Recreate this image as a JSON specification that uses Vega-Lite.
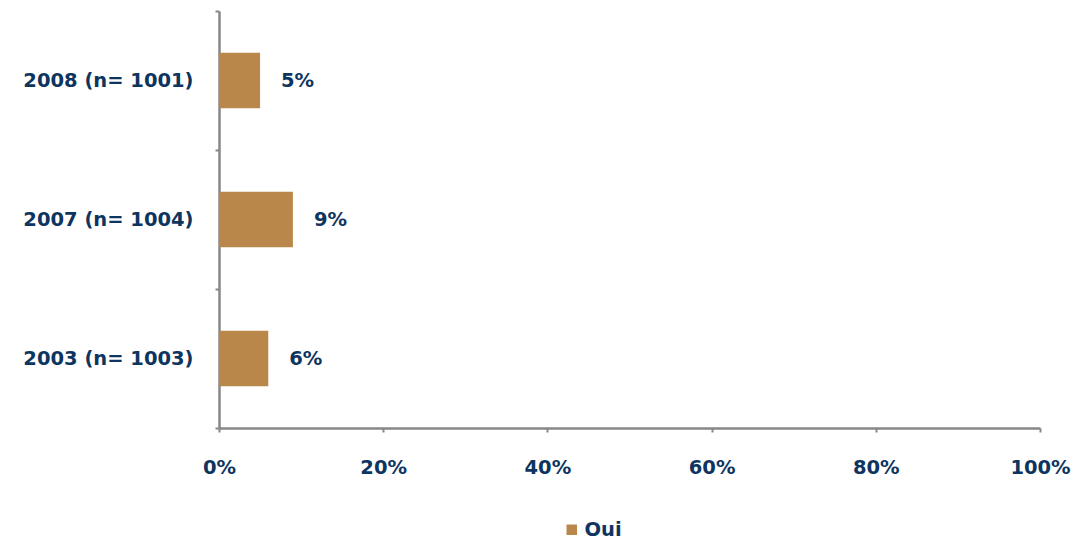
{
  "$schema": "https://vega.github.io/schema/vega-lite/v6.json",
  "autosize": "none",
  "width": 821,
  "height": 417,
  "padding": {"left": 219, "top": 11, "right": 40, "bottom": 114},
  "background": "white",
  "config": {
    "view": {"stroke": null},
    "font": "DejaVu Sans"
  },
  "data": {
    "values": [
      {"annee": "2008 (n= 1001)", "serie": "Oui", "valeur": 0.05},
      {"annee": "2007 (n= 1004)", "serie": "Oui", "valeur": 0.09},
      {"annee": "2003 (n= 1003)", "serie": "Oui", "valeur": 0.06}
    ]
  },
  "encoding": {
    "y": {
      "field": "annee",
      "type": "nominal",
      "sort": null,
      "scale": {"paddingInner": 0, "paddingOuter": 0},
      "axis": {
        "title": null,
        "domainColor": "#878787",
        "domainWidth": 2.5,
        "tickColor": "#878787",
        "tickWidth": 2,
        "tickSize": 4,
        "tickBand": "extent",
        "labelPadding": 22,
        "labelFont": "DejaVu Sans",
        "labelFontWeight": "bold",
        "labelFontSize": 19.5,
        "labelColor": "#0E3560",
        "grid": false
      }
    },
    "x": {
      "field": "valeur",
      "type": "quantitative",
      "scale": {"domain": [0, 1], "nice": false},
      "axis": {
        "title": null,
        "format": ".0%",
        "values": [0, 0.2, 0.4, 0.6, 0.8, 1],
        "domainColor": "#878787",
        "domainWidth": 2.5,
        "tickColor": "#878787",
        "tickWidth": 2,
        "tickSize": 4,
        "labelPadding": 26,
        "labelFont": "DejaVu Sans",
        "labelFontWeight": "bold",
        "labelFontSize": 19.5,
        "labelColor": "#0E3560",
        "labelFlush": false,
        "grid": false
      }
    }
  },
  "layer": [
    {
      "mark": {"type": "bar", "color": "#B9874A", "height": {"band": 0.4}},
      "encoding": {
        "color": {
          "field": "serie",
          "type": "nominal",
          "scale": {"range": ["#B9874A"]},
          "legend": {
            "title": null,
            "orient": "none",
            "legendX": 343,
            "legendY": 509,
            "symbolType": "square",
            "symbolSize": 110,
            "symbolStrokeWidth": 0,
            "labelFont": "DejaVu Sans",
            "labelFontWeight": "bold",
            "labelFontSize": 19.5,
            "labelColor": "#0E3560",
            "labelOffset": 3
          }
        }
      }
    },
    {
      "mark": {
        "type": "text",
        "align": "left",
        "baseline": "middle",
        "dx": 21,
        "font": "DejaVu Sans",
        "fontWeight": "bold",
        "fontSize": 19.5,
        "color": "#0E3560"
      },
      "encoding": {
        "text": {"field": "valeur", "type": "quantitative", "format": ".0%"}
      }
    }
  ]
}
